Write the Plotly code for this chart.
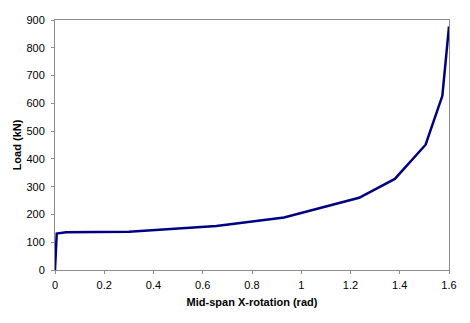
import plotly.graph_objects as go

rotation = [0.0, 0.007, 0.045, 0.30, 0.655, 0.93, 1.235, 1.38, 1.505, 1.573, 1.6]
load = [0, 131, 136, 138, 158, 189, 260, 328, 451, 627, 877]

x_ticks = [0, 0.2, 0.4, 0.6, 0.8, 1, 1.2, 1.4, 1.6]
x_labels = ["0", "0.2", "0.4", "0.6", "0.8", "1", "1.2", "1.4", "1.6"]
y_ticks = [0, 100, 200, 300, 400, 500, 600, 700, 800, 900]

fig = go.Figure()
fig.add_trace(go.Scatter(x=rotation, y=load, mode="lines",
                         line=dict(color="#000080", width=2.5), showlegend=False))

axis_common = dict(showgrid=False, zeroline=False, showline=True, linecolor="#8c8c8c",
                   linewidth=1, mirror=True, ticks="outside", ticklen=3,
                   tickcolor="#8c8c8c", tickfont=dict(family="Liberation Sans, Arial", size=11, color="black"))

fig.update_layout(
    width=470, height=323,
    margin=dict(l=55, r=21, t=20, b=53),
    paper_bgcolor="white", plot_bgcolor="white",
    xaxis=dict(range=[0, 1.6], tickvals=x_ticks, ticktext=x_labels, ticklabelstandoff=2,
               title=dict(text="<b>Mid-span X-rotation (rad)</b>", standoff=8,
                          font=dict(family="Liberation Sans, Arial", size=11, color="black")),
               **axis_common),
    yaxis=dict(range=[0, 900], tickvals=y_ticks, ticklabelstandoff=4,
               title=dict(text="<b>Load (kN)</b>", standoff=2,
                          font=dict(family="Liberation Sans, Arial", size=11, color="black")),
               **axis_common),
)

fig.write_html("out.html")
